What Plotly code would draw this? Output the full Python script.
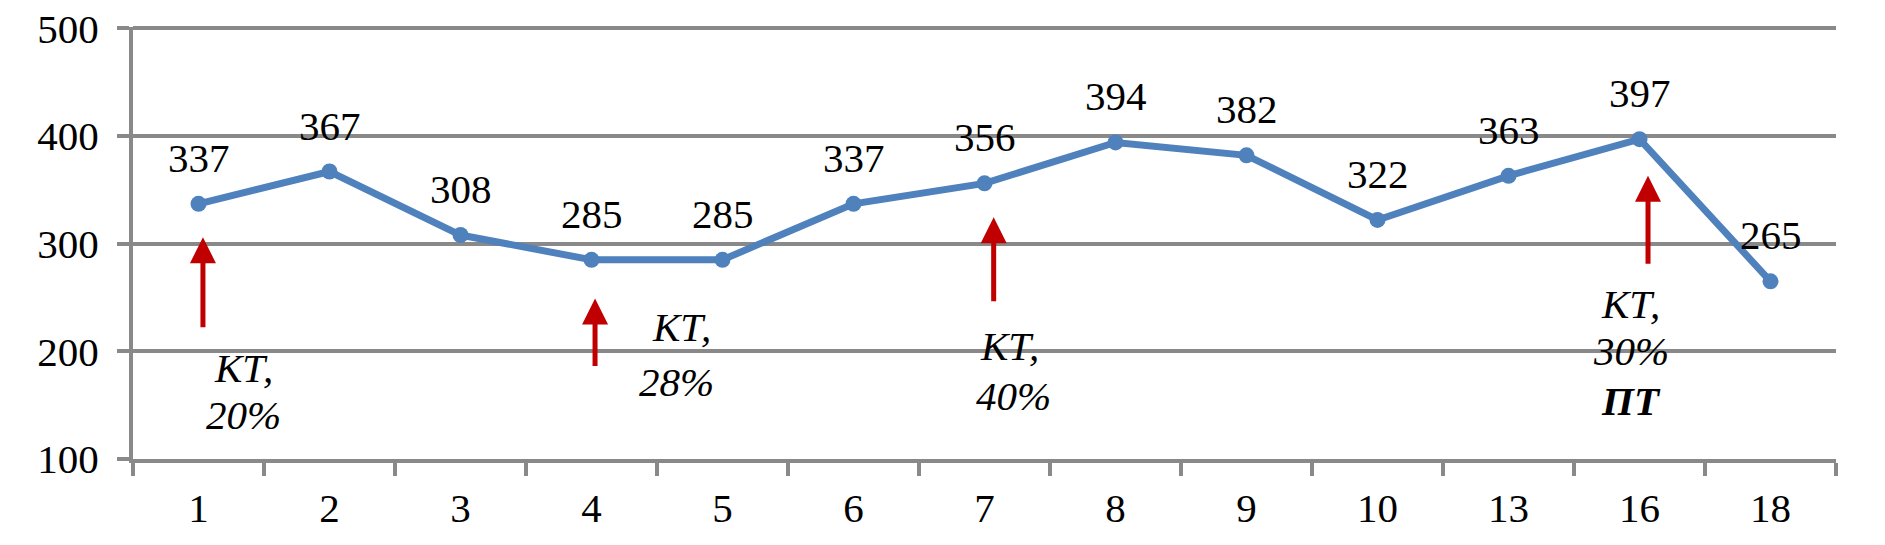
import plotly.graph_objects as go

categories = ["1", "2", "3", "4", "5", "6", "7", "8", "9", "10", "13", "16", "18"]
values = [337, 367, 308, 285, 285, 337, 356, 394, 382, 322, 363, 397, 265]
y_ticks = [100, 200, 300, 400, 500]

# arrows: category position (index units), tip value, tail value
arrow_pos = [0.034, 3.027, 6.07, 11.065]
arrow_tip = [306, 249, 324.5, 363]
arrow_tail = [221, 185, 245, 280]

# note lines: text, category position, value
note_text = ["<i>КТ,</i>", "<i>20%</i>",
             "<i>КТ,</i>", "<i>28%</i>",
             "<i>КТ,</i>", "<i>40%</i>",
             "<i>КТ,</i>", "<i>30%</i>", "<i><b>ПТ</b></i>"]
note_pos = [0.347, 0.34, 3.69, 3.645, 6.187, 6.218, 10.935, 10.935, 10.935]
note_val = [184.5, 140.8, 222.5, 171.5, 204.9, 158.5, 243.9, 200.2, 153.8]

FONT = "Times New Roman, Liberation Serif, serif"
FS = 41
GRID = "#898989"
BLUE = "#4F81BD"
RED = "#C00000"

xs = list(range(len(categories)))

fig = go.Figure()
fig.add_trace(go.Scatter(
    x=xs, y=values, mode="lines+markers",
    line=dict(color=BLUE, width=7),
    marker=dict(color=BLUE, size=16),
    cliponaxis=False, showlegend=False, hoverinfo="skip",
))

annotations = []
for x, v in zip(xs, values):
    annotations.append(dict(
        x=x, y=v, xref="x", yref="y", text=str(v), showarrow=False,
        font=dict(family=FONT, size=FS, color="black"),
        xanchor="center", yanchor="middle", yshift=46,
    ))
for p, t, tl in zip(arrow_pos, arrow_tip, arrow_tail):
    annotations.append(dict(
        x=p, y=t, ax=p, ay=tl, xref="x", yref="y", axref="x", ayref="y",
        text="", showarrow=True, arrowhead=2, arrowsize=1.04, arrowwidth=5,
        arrowcolor=RED, standoff=0, startstandoff=0,
    ))
for txt, p, v in zip(note_text, note_pos, note_val):
    annotations.append(dict(
        x=p, y=v, xref="x", yref="y", text=txt, showarrow=False,
        font=dict(family=FONT, size=FS, color="black"),
        xanchor="center", yanchor="middle", align="center",
    ))

fig.update_layout(
    width=1885, height=545,
    margin=dict(l=133, r=49, t=27, b=86),
    paper_bgcolor="white", plot_bgcolor="white",
    font=dict(family=FONT, size=FS, color="black"),
    annotations=annotations,
    xaxis=dict(
        range=[-0.5, len(categories) - 0.5], automargin=False,
        tickmode="array", tickvals=xs, ticktext=categories,
        ticks="", showgrid=False, zeroline=False,
        showline=True, linecolor=GRID, linewidth=4,
        ticklabelstandoff=10,
        minor=dict(tickmode="linear", tick0=-0.5, dtick=1, ticks="outside",
                   ticklen=13, tickwidth=4, tickcolor=GRID, showgrid=False),
    ),
    yaxis=dict(
        range=[100, 501.2], automargin=False, tickmode="array", tickvals=y_ticks,
        ticks="outside", ticklen=12, tickwidth=4, tickcolor=GRID,
        showgrid=True, gridcolor=GRID, gridwidth=4, zeroline=False,
        showline=True, linecolor=GRID, linewidth=4,
        ticklabelstandoff=10,
    ),
)

fig.write_html("out.html", post_script="document.body.style.margin='0px';",
               config={"displayModeBar": False})
